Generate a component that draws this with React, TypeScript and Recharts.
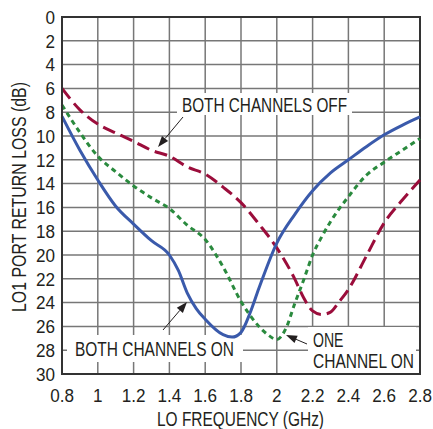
import React from "react";
import {
  LineChart, Line, XAxis, YAxis, CartesianGrid, ReferenceArea,
} from "recharts";

// LO frequency (GHz) / LO1 port return loss (dB), one pair of lists per curve
const onFreq = [0.8, 0.9, 1.0, 1.1, 1.2, 1.3, 1.4, 1.45, 1.5, 1.55, 1.6, 1.7, 1.75, 1.8, 1.85, 1.9, 2.0, 2.1, 2.2, 2.3, 2.4, 2.5, 2.6, 2.7, 2.8];
const bothOn = [8.35, 11.2, 13.7, 15.9, 17.4, 18.8, 20.0, 21.3, 23.2, 24.5, 25.4, 26.7, 26.9, 26.5, 24.9, 22.8, 19.0, 16.6, 14.6, 13.1, 12.0, 10.9, 9.9, 9.1, 8.4];

const oneFreq = [0.8, 0.9, 1.0, 1.1, 1.2, 1.3, 1.4, 1.5, 1.6, 1.7, 1.8, 1.9, 1.95, 2.0, 2.05, 2.1, 2.15, 2.2, 2.25, 2.3, 2.4, 2.5, 2.6, 2.7, 2.8];
const oneOn = [7.4, 9.7, 11.7, 13.0, 14.2, 15.2, 16.1, 17.5, 18.7, 21.0, 23.9, 26.0, 26.7, 27.1, 26.2, 24.1, 22.1, 20.0, 18.5, 17.2, 15.1, 13.3, 12.2, 11.2, 10.2];

const offFreq = [0.8, 0.9, 1.0, 1.1, 1.2, 1.3, 1.4, 1.5, 1.6, 1.7, 1.8, 1.9, 2.0, 2.1, 2.15, 2.2, 2.25, 2.3, 2.35, 2.4, 2.5, 2.6, 2.7, 2.8];
const bothOff = [6.0, 7.8, 9.0, 9.75, 10.45, 11.2, 11.7, 12.6, 13.2, 14.3, 15.6, 17.4, 19.4, 22.0, 23.6, 24.7, 25.0, 24.8, 23.9, 22.9, 20.1, 17.3, 15.4, 13.7];

const xTicks = [0.8, 1, 1.2, 1.4, 1.6, 1.8, 2, 2.2, 2.4, 2.6, 2.8];
const yTicks = [0, 2, 4, 6, 8, 10, 12, 14, 16, 18, 20, 22, 24, 26, 28, 30];

const toPts = (fs: number[], vs: number[]) => fs.map((f, i) => ({ f, v: vs[i] }));

const FONT = "'Liberation Sans', Arial, sans-serif";
const TXT = "#231f20";

function Arrow({ x1, y1, x2, y2 }: { x1: number; y1: number; x2: number; y2: number }) {
  // tail (x1,y1) -> head (x2,y2)
  const a = Math.atan2(y2 - y1, x2 - x1);
  const len = 11, w = 4;
  const bx = x2 - len * Math.cos(a), by = y2 - len * Math.sin(a);
  const pts = [
    [x2, y2],
    [bx + w * Math.sin(a), by - w * Math.cos(a)],
    [bx - w * Math.sin(a), by + w * Math.cos(a)],
  ].map((p) => p.join(",")).join(" ");
  return (
    <g>
      <line x1={x1} y1={y1} x2={bx} y2={by} stroke={TXT} strokeWidth={1} />
      <polygon points={pts} fill={TXT} />
    </g>
  );
}

// condensed look: squeeze glyphs horizontally around the anchor
const XTick = (p: any) => (
  <g transform={`translate(${p.x},402)`}>
    <text transform="scale(0.9,1)" textAnchor="middle" fontSize={19} fill={TXT} fontFamily={FONT}>
      {p.payload.value}
    </text>
  </g>
);
const YTick = (p: any) => (
  <g transform={`translate(55,${p.y + 6.8})`}>
    <text transform="scale(0.9,1)" textAnchor="end" fontSize={19} fill={TXT} fontFamily={FONT}>
      {p.payload.value}
    </text>
  </g>
);

export default function App() {
  return (
    <div style={{ position: "absolute", left: 0, top: 0, background: "#fff" }}>
      <LineChart width={433} height={429}
        margin={{ top: 17, right: 13, bottom: 15, left: 0 }}>
        <CartesianGrid stroke="#777" strokeWidth={1.5} />
        <XAxis dataKey="f" type="number" domain={[0.8, 2.8]} ticks={xTicks} height={40} interval={0}
          axisLine={{ stroke: "#333", strokeWidth: 2 }} tickLine={false} tickSize={0} tick={<XTick />} />
        <YAxis type="number" domain={[0, 30]} reversed ticks={yTicks} width={62} interval={0}
          axisLine={{ stroke: "#333", strokeWidth: 2 }} tickLine={false} tickSize={0} tick={<YTick />} />
        <ReferenceArea x1={0.8} x2={2.8} y1={0} y2={30} fill="none" stroke="#333" strokeWidth={2} />
        <Line data={toPts(offFreq, bothOff)} dataKey="v" type="monotone" stroke="#9b0d3b" strokeWidth={3}
          strokeDasharray="13 6" dot={false} isAnimationActive={false} />
        <Line data={toPts(oneFreq, oneOn)} dataKey="v" type="monotone" stroke="#2a8a3e" strokeWidth={3}
          strokeDasharray="5 4" dot={false} isAnimationActive={false} />
        <Line data={toPts(onFreq, bothOn)} dataKey="v" type="monotone" stroke="#3a5aab" strokeWidth={3}
          dot={false} isAnimationActive={false} />

        {/* annotations */}
        <g fontFamily={FONT} fontSize={20} fill={TXT}>
          <rect x={177} y={93} width={175} height={22} fill="#fff" />
          <text x={182} y={112} textLength={165} lengthAdjust="spacingAndGlyphs">BOTH CHANNELS OFF</text>
          <Arrow x1={183} y1={117} x2={158} y2={147} />

          <rect x={67} y={335} width={176} height={27} fill="#fff" />
          <text x={75} y={356} textLength={159} lengthAdjust="spacingAndGlyphs">BOTH CHANNELS ON</text>
          <Arrow x1={163} y1={330} x2={187} y2={302} />

          <rect x={308} y={327} width={108} height={46} fill="#fff" />
          <text x={313} y={346.5} textLength={30.5} lengthAdjust="spacingAndGlyphs">ONE</text>
          <text x={313} y={368} textLength={101} lengthAdjust="spacingAndGlyphs">CHANNEL ON</text>
          <Arrow x1={307} y1={344} x2={286} y2={335} />

          <text x={157} y={426} fontSize={21} textLength={167} lengthAdjust="spacingAndGlyphs">LO FREQUENCY (GHz)</text>
          <text x={26} y={312} textLength={230} lengthAdjust="spacingAndGlyphs"
            transform="rotate(-90 26 312)">LO1 PORT RETURN LOSS (dB)</text>
        </g>
      </LineChart>
    </div>
  );
}
